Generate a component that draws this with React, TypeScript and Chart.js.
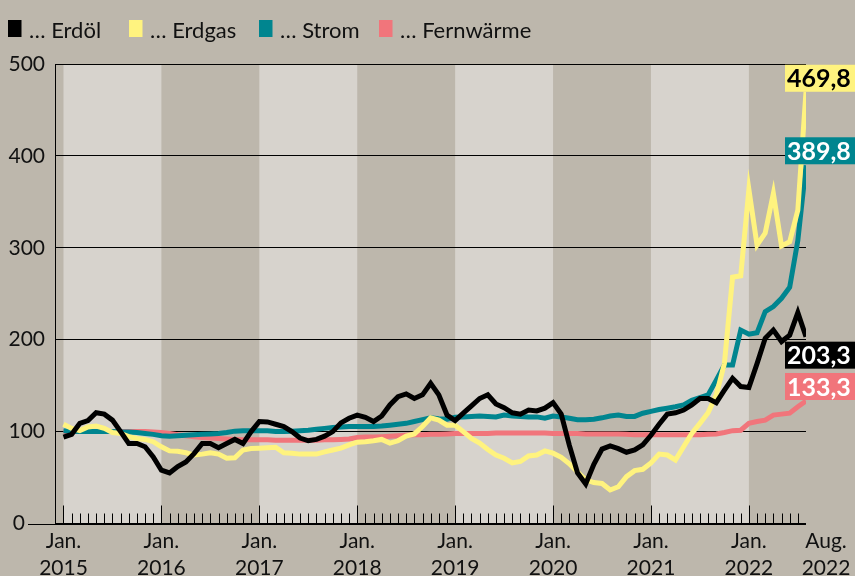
import React, { useEffect, useRef } from "react";
import { Chart, registerables } from "chart.js";

Chart.register(...registerables);

// ---- data (monthly index values, Jan 2015 .. Aug 2022) ----
const yearLabels = ["2015", "2016", "2017", "2018", "2019", "2020", "2021", "2022"];
const monthLabel = "Jan.";
const lastLabel = ["Aug.", "2022"];
const yTickValues = [0, 100, 200, 300, 400, 500];
const seriesNames = ["… Erdöl", "… Erdgas", "… Strom", "… Fernwärme"];

const erdoel = [
  94, 97, 109, 112, 120.5, 119, 112.5, 100, 87, 87, 83.5, 72.5,
  58, 55, 62, 67, 76, 87, 87, 82.5, 87, 91.5, 87, 100,
  111, 110.5, 108, 105.5, 100, 93, 90, 91.5, 95, 100, 109.5, 114.5,
  118, 115.5, 111, 117, 129, 138, 141, 136, 140, 152.5, 140, 118,
  112, 120, 128, 136, 140, 130, 126, 120.5, 119, 123.5, 122.5, 125.5,
  131.5, 119, 85, 55, 43, 64.5, 81, 84.5, 81.5, 77.5, 80, 85.5,
  96, 108, 119, 120.5, 123.5, 129, 136, 136, 131.5, 145, 158, 149,
  148, 174, 201.5, 210.5, 198, 205, 229.5, 203.3,
];
const erdgas = [
  108, 103.5, 101, 105, 106, 103.5, 99, 98, 94.5, 92.5, 91.5, 89,
  83.5, 79, 78.5, 77, 74.5, 75.5, 77, 75.5, 71, 71.5, 80, 81.5,
  82, 82.5, 83, 77, 76.5, 75.5, 75.5, 75.5, 78, 80, 82, 85.5,
  88.5, 89, 90, 91.5, 87.5, 90, 95, 97.5, 105.5, 115, 112.5, 107,
  107, 100, 92.5, 87.5, 80.5, 74.5, 71, 66, 67.5, 73.5, 74.5, 79,
  76.5, 72, 65, 56, 47.5, 44.5, 43.5, 36.5, 40, 51, 57.5, 59,
  66, 75.5, 74.5, 69, 83.5, 98, 109, 120.5, 140, 174, 268, 269.5,
  363.5, 303, 316, 359, 302, 306.5, 341, 469.8,
];
const strom = [
  101, 100.5, 100, 100, 100, 100, 100, 99.5, 99.5, 99, 98, 97,
  95.5, 95, 95.5, 96, 96.5, 97, 97.5, 98, 99, 100.5, 101, 101,
  101, 101, 100, 100, 100.5, 101, 101.5, 102.5, 103.5, 104.5, 105, 105.5,
  105.5, 105.5, 105.5, 106, 107, 108, 109, 111, 113, 115, 114, 113.5,
  115.5, 116, 116.5, 117, 116.5, 116, 118, 117, 116.5, 116, 116, 114.5,
  117, 116, 114.5, 113, 113, 113.5, 115, 117, 118, 116.5, 116.5, 120,
  122, 124, 125.5, 127, 129, 134, 137, 140, 156, 172.5, 172.5, 210.5,
  206, 207.5, 230.5, 236, 245, 257, 308, 389.8,
];
const fernwaerme = [
  100, 100, 100, 100, 100, 100, 100, 100, 100, 100, 100, 99.5,
  99, 98, 96.5, 95.5, 94.5, 93.5, 93, 92.5, 92, 91.5, 91, 91,
  91, 91, 90.5, 90.5, 90.5, 90.5, 90.5, 90.5, 91, 91, 91.5, 92,
  93.5, 94, 94, 94.5, 95, 95.5, 96, 96.5, 96.5, 97, 97, 97.5,
  98, 98, 98, 98, 98, 98.5, 98.5, 98.5, 98.5, 98.5, 98.5, 98.5,
  98, 98, 98, 98, 97.5, 97.5, 97.5, 97.5, 97.5, 97, 96.5, 96.5,
  96.5, 96.5, 96.5, 96.5, 96.5, 96.5, 96.5, 97, 97.5, 99, 101, 101.5,
  109, 111, 112.5, 118, 119, 120, 127, 133.3,
];
const endLabels = ["203,3", "469,8", "389,8", "133,3"];

// ---- styles ----
const BG = "#bdb7ac";
const LIGHT = "#d7d3cd";
const COLORS = ["#000000", "#fff37f", "#00858f", "#f1757b"];
const LABEL_TEXT = ["#ffffff", "#000000", "#ffffff", "#ffffff"];
const FONT = "Lato, 'Noto Sans', sans-serif";

const series = [erdoel, erdgas, strom, fernwaerme];

const customPlugin = {
  id: "customDecor",
  beforeDraw(chart: any) {
    const { ctx, chartArea, scales } = chart;
    const x = scales.x;
    ctx.save();
    ctx.fillStyle = BG;
    ctx.fillRect(0, 0, chart.width, chart.height);
    for (let k = 0; k < yearLabels.length; k++) {
      if (k % 2 === 0) {
        const x0 = x.getPixelForValue(k * 12);
        const x1 = Math.min(x.getPixelForValue((k + 1) * 12), chartArea.right);
        ctx.fillStyle = LIGHT;
        ctx.fillRect(x0, chartArea.top, x1 - x0, chartArea.bottom - chartArea.top);
      }
    }
    ctx.restore();
  },
  afterDatasetsDraw(chart: any) {
    const { ctx, chartArea, scales } = chart;
    const x = scales.x;
    const y = scales.y;
    ctx.save();
    // baseline
    const by = Math.round(y.getPixelForValue(0)) + 0.5;
    ctx.strokeStyle = "#000";
    ctx.lineWidth = 1;
    ctx.beginPath();
    ctx.moveTo(28, by);
    ctx.lineTo(chartArea.right, by);
    ctx.stroke();
    // month ticks
    for (let i = 0; i < erdoel.length - 1; i++) {
      const px = Math.round(x.getPixelForValue(i)) + 0.5;
      const len = i % 12 === 0 ? 19 : 11;
      ctx.beginPath();
      ctx.moveTo(px, by);
      ctx.lineTo(px, by - len);
      ctx.stroke();
    }
    // y labels
    ctx.fillStyle = "#111";
    ctx.font = `21px ${FONT}`;
    ctx.textAlign = "right";
    ctx.textBaseline = "middle";
    for (const v of yTickValues) {
      const py = y.getPixelForValue(v);
      ctx.fillText(String(v), v === 0 ? 25 : 45, py);
    }
    // x labels
    ctx.textAlign = "center";
    ctx.textBaseline = "alphabetic";
    yearLabels.forEach((yl, k) => {
      const px = x.getPixelForValue(k * 12);
      ctx.fillText(monthLabel, px, 548);
      ctx.fillText(yl, px, 575);
    });
    const lx = x.getPixelForValue(erdoel.length - 1) + 20;
    ctx.fillText(lastLabel[0], lx, 548);
    ctx.fillText(lastLabel[1], lx, 575);

    // end labels
    const offsets = [5, -27, -28, -28];
    ctx.font = `bold 25px ${FONT}`;
    ctx.textAlign = "left";
    ctx.textBaseline = "middle";
    series.forEach((s, i) => {
      const py = y.getPixelForValue(s[s.length - 1]);
      const top = py + offsets[i];
      ctx.fillStyle = COLORS[i];
      ctx.fillRect(785, top, 75, 27);
      ctx.fillStyle = LABEL_TEXT[i];
      ctx.fillText(endLabels[i], 787, top + 14.5);
    });

    // legend
    const legendX = [8, 129, 259, 379];
    ctx.font = `22px ${FONT}`;
    ctx.textBaseline = "alphabetic";
    seriesNames.forEach((n, i) => {
      ctx.fillStyle = COLORS[i];
      ctx.fillRect(legendX[i], 20, 13.5, 17);
      ctx.fillStyle = "#111";
      ctx.fillText(n, legendX[i] + 21, 37.5);
    });
    ctx.restore();
  },
};

export default function App() {
  const ref = useRef<HTMLCanvasElement | null>(null);
  useEffect(() => {
    if (!ref.current) return;
    const datasets = series.map((s, i) => ({
      label: seriesNames[i],
      data: s.map((v, idx) => ({ x: idx, y: v })),
      borderColor: COLORS[i],
      backgroundColor: COLORS[i],
      borderWidth: 5,
      pointRadius: 0,
      tension: 0,
      fill: false,
    }));
    const chart = new Chart(ref.current, {
      type: "line",
      data: { datasets },
      plugins: [customPlugin],
      options: {
        animation: false,
        responsive: false,
        devicePixelRatio: 1,
        layout: { padding: { left: 55, right: 49, top: 64, bottom: 52.5 } },
        plugins: { legend: { display: false }, tooltip: { enabled: false } },
        scales: {
          x: {
            type: "linear",
            min: -1.04,
            max: erdoel.length - 1,
            ticks: { display: false },
            grid: { display: false },
            border: { display: false },
            afterFit: (s: any) => {
              s.height = 0;
            },
          },
          y: {
            min: 0,
            max: 500,
            ticks: { display: false, stepSize: 100 },
            grid: { color: "#000", lineWidth: 1, drawTicks: false },
            border: { display: true, color: "#000", width: 1 },
            afterFit: (s: any) => {
              s.width = 0;
            },
          },
        },
      },
    });
    return () => chart.destroy();
  }, []);
  return (
    <div style={{ position: "fixed", left: 0, top: 0, width: 855, height: 576, background: BG }}>
      <canvas ref={ref} width={855} height={576} style={{ display: "block", width: 855, height: 576 }} />
    </div>
  );
}
